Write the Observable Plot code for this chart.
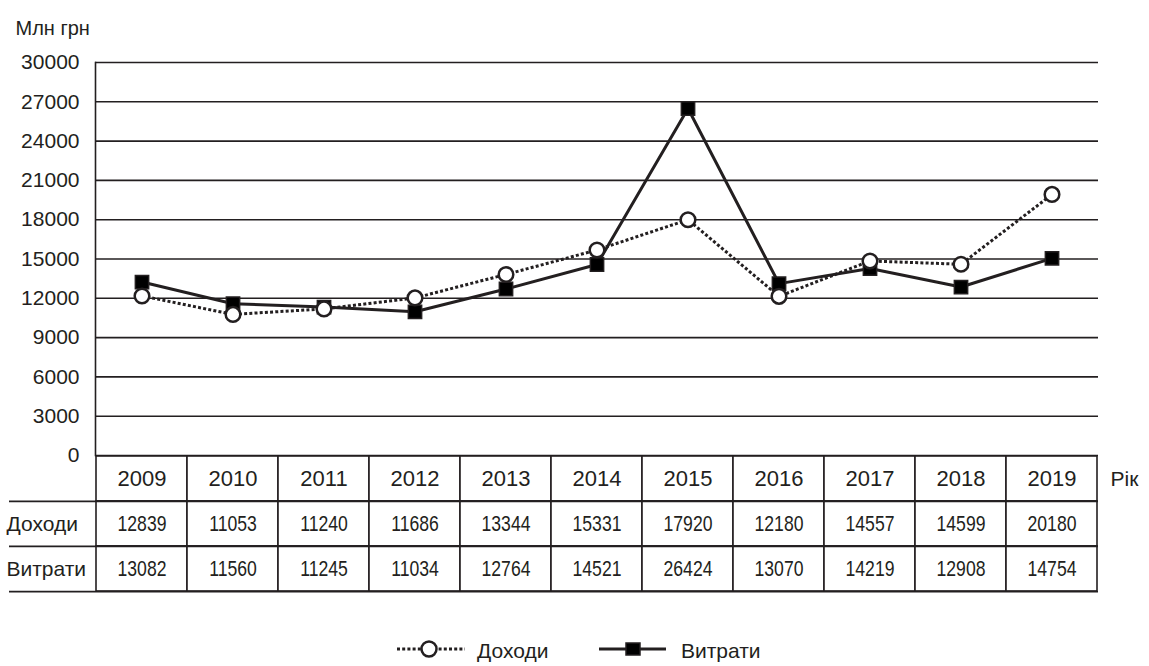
<!DOCTYPE html>
<html><head><meta charset="utf-8">
<script src="https://cdn.jsdelivr.net/npm/d3@7"></script>
<script src="https://cdn.jsdelivr.net/npm/@observablehq/plot@0.6"></script>
<style>
body{margin:0;background:#fff;font-family:"Liberation Sans",Arial,sans-serif;color:#231f20;width:1149px;height:666px;position:relative;overflow:hidden}
#chart svg,#table svg{display:block}
#table{margin-top:-1px}
#legend{position:absolute;left:0;top:629px}
</style></head><body>
<div id="chart"></div><div id="table"></div><div id="legend"></div>
<script>
const years = ["2009","2010","2011","2012","2013","2014","2015","2016","2017","2018","2019"];
const seriesNames = ["Доходи","Витрати"];
// values printed in the table
const incomeTable  = [12839, 11053, 11240, 11686, 13344, 15331, 17920, 12180, 14557, 14599, 20180];
const expenseTable = [13082, 11560, 11245, 11034, 12764, 14521, 26424, 13070, 14219, 12908, 14754];
// values as drawn by the lines
const incomePlotted  = [12180, 10770, 11190, 12030, 13820, 15690, 18000, 12150, 14850, 14600, 19930];
const expensePlotted = [13240, 11590, 11330, 10970, 12710, 14580, 26490, 13120, 14270, 12860, 15050];
const yTicks = [0, 3000, 6000, 9000, 12000, 15000, 18000, 21000, 24000, 27000, 30000];
const yUnit = "Млн грн";
const xUnit = "Рік";

const INK = "#231f20";
const FONT = '"Liberation Sans", Arial, sans-serif';
const W = 1149, ML = 95, MR = 51;
const DOTS = "3,2.2";

const income = years.map((year, i) => ({year, value: incomePlotted[i]}));
const expense = years.map((year, i) => ({year, value: expensePlotted[i]}));

const chart = Plot.plot({
  width: W, height: 456, marginTop: 62, marginBottom: 1, marginLeft: ML, marginRight: MR,
  style: {background: "transparent", overflow: "visible", fontFamily: FONT, color: INK},
  x: {type: "band", domain: years, padding: 0, axis: null},
  y: {domain: [0, 30000], axis: null},
  marks: [
    Plot.ruleY(yTicks, {stroke: INK, strokeWidth: 1.6}),
    Plot.frame({anchor: "left", stroke: INK, strokeWidth: 1.6}),
    Plot.axisY(yTicks, {tickSize: 0, tickPadding: 16, fontSize: 21, label: null, tickFormat: d => String(d)}),
    Plot.text([yUnit], {frameAnchor: "top-left", dx: -80, dy: -42, textAnchor: "start", fontSize: 20, fill: INK}),
    Plot.line(income, {x: "year", y: "value", stroke: INK, strokeWidth: 3, strokeDasharray: DOTS, strokeLinecap: "butt", strokeLinejoin: "miter"}),
    Plot.line(expense, {x: "year", y: "value", stroke: INK, strokeWidth: 3, strokeLinecap: "butt"}),
    Plot.dot(expense, {x: "year", y: "value", symbol: "square", r: 7.5, fill: "#000", stroke: INK, strokeWidth: 1.5}),
    Plot.dot(income, {x: "year", y: "value", r: 7.3, fill: "white", stroke: INK, strokeWidth: 2.5})
  ]
});
document.getElementById("chart").appendChild(chart);

const rows = ["year", ...seriesNames];
const cells = years.flatMap((year, i) => [
  {year, row: "year", text: year},
  {year, row: seriesNames[0], text: String(incomeTable[i])},
  {year, row: seriesNames[1], text: String(expenseTable[i])}
]);
const TH = 138, TB = 2;
const bw = (TH - TB) / rows.length;
const table = Plot.plot({
  width: W, height: TH, marginTop: 0, marginBottom: TB, marginLeft: ML, marginRight: MR,
  style: {background: "transparent", overflow: "visible", fontFamily: FONT, color: INK},
  x: {type: "band", domain: years, padding: 0, axis: null},
  y: {type: "band", domain: rows, padding: 0, axis: null},
  marks: [
    Plot.cell(cells, {x: "year", y: "row", fill: "white", stroke: INK, strokeWidth: 1.6, inset: 0}),
    Plot.ruleY(seriesNames, {dy: -bw / 2, insetLeft: -86, stroke: INK, strokeWidth: 1.6}),
    Plot.ruleY([seriesNames[1]], {dy: bw / 2, insetLeft: -86, stroke: INK, strokeWidth: 1.6}),
    Plot.text(cells.filter(d => d.row === "year"), {x: "year", y: "row", text: "text", fontSize: 22, fill: INK}),
    Plot.text(cells.filter(d => d.row !== "year"), {x: "year", y: "row", text: "text", fontSize: 22, fill: INK}),
    Plot.text(seriesNames, {y: d => d, frameAnchor: "left", dx: -89, textAnchor: "start", fontSize: 21, fill: INK}),
    Plot.text([xUnit], {y: () => "year", frameAnchor: "right", dx: 12, textAnchor: "start", fontSize: 21, fill: INK})
  ]
});
// condense the numeric table entries (narrow typeface in the original)
d3.select(table).selectAll("text").filter(function () { return /^\d{5}$/.test(this.textContent); })
  .each(function () {
    const el = d3.select(this);
    const t = el.attr("transform");
    if (t) el.attr("transform", t + " scale(0.8,1)");
    else {
      const x = +el.attr("x") || 0, y = +el.attr("y") || 0;
      el.attr("x", null).attr("y", null).attr("transform", `translate(${x},${y}) scale(0.8,1)`);
    }
  });
document.getElementById("table").appendChild(table);

// legend
const lg = d3.select("#legend").append("svg").attr("width", W).attr("height", 40)
  .style("font-family", FONT).style("font-size", "21px");
const cy = 20;
lg.append("line").attr("x1", 397).attr("x2", 465).attr("y1", cy).attr("y2", cy)
  .attr("stroke", INK).attr("stroke-width", 3).attr("stroke-dasharray", DOTS);
lg.append("circle").attr("cx", 429).attr("cy", cy).attr("r", 7.5).attr("fill", "white").attr("stroke", INK).attr("stroke-width", 2.5);
lg.append("text").attr("x", 477).attr("y", cy + 2).attr("dy", "0.35em").attr("fill", INK).text(seriesNames[0]);
lg.append("line").attr("x1", 599).attr("x2", 666).attr("y1", cy).attr("y2", cy)
  .attr("stroke", INK).attr("stroke-width", 3);
lg.append("rect").attr("x", 626).attr("y", cy - 6).attr("width", 14).attr("height", 12).attr("fill", "#000").attr("stroke", INK).attr("stroke-width", 1.5);
lg.append("text").attr("x", 681).attr("y", cy + 2).attr("dy", "0.35em").attr("fill", INK).text(seriesNames[1]);
</script>
</body></html>
